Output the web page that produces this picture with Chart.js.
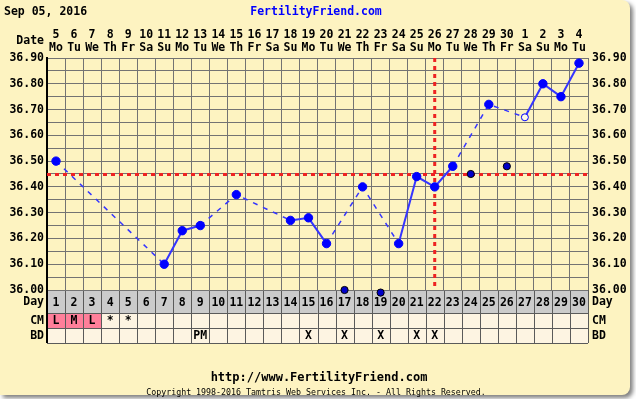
<!doctype html>
<html lang="en">
  <head>
    <meta charset="utf-8">
    <title>FertilityFriend BBT chart</title>
    <script src="https://cdn.jsdelivr.net/npm/chart.js"></script>
    <style>
      html, body { margin: 0; padding: 0; background: #fff; }
      #bbtChart { display: block; }
    </style>
  </head>
  <body>
    <canvas id="bbtChart" width="636" height="399"></canvas>
    <script>
      // chart data
      const cycleDays = ['1','2','3','4','5','6','7','8','9','10','11','12','13','14','15',
        '16','17','18','19','20','21','22','23','24','25','26','27','28','29','30'];
      const dateNums = ['5','6','7','8','9','10','11','12','13','14','15','16','17','18','19',
        '20','21','22','23','24','25','26','27','28','29','30','1','2','3','4'];
      const weekDays = ['Mo','Tu','We','Th','Fr','Sa','Su','Mo','Tu','We','Th','Fr','Sa','Su','Mo',
        'Tu','We','Th','Fr','Sa','Su','Mo','Tu','We','Th','Fr','Sa','Su','Mo','Tu'];
      const temps = [36.50, null, null, null, null, null, 36.10, 36.23, 36.25, null,
        36.37, null, null, 36.27, 36.28, 36.18, null, 36.40, null, 36.18,
        36.44, 36.40, 36.48, null, 36.72, null, 36.67, 36.80, 36.75, 36.88];
      const discardedTemps = [null, null, null, null, null, null, null, null, null, null,
        null, null, null, null, null, null, 36.00, null, 35.99, null,
        null, null, null, 36.45, null, 36.48, null, null, null, null];
      const openDays = ['27'];
      const cmMarks = ['L','M','L','*','*','','','','','','','','','','',
        '','','','','','','','','','','','','','',''];
      const periodDays = ['1','2','3'];
      const bdMarks = ['','','','','','','','','PM','','','','','','X',
        '','X','','X','','X','X','','','','','','','',''];
      const coverline = 36.45;
      const ovulationDay = '22';
      const tempMin = 36.00;
      const tempMax = 36.90;

      const mono = '"DejaVu Sans Mono", "Liberation Mono", monospace';
      const panelColor = '#fdf3c1';
      const cellColor = '#fdf4e2';

      // the part of the line that jumps over a missing day is dashed
      function isGap(ctx) {
        return ctx.p0.skip || ctx.p1.skip;
      }

      const chartFrame = {
        id: 'chartFrame',
        beforeDraw(chart) {
          const { ctx, chartArea: a, scales: { x } } = chart;
          ctx.save();
          ctx.fillStyle = '#ffffff';
          ctx.fillRect(0, 0, chart.width, chart.height);
          // panel with a soft shadow
          ctx.shadowColor = 'rgba(0,0,0,0.5)';
          ctx.shadowBlur = 4;
          ctx.shadowOffsetX = 3;
          ctx.shadowOffsetY = 3;
          ctx.fillStyle = panelColor;
          ctx.beginPath();
          ctx.roundRect(0, 0, 630, 395, [0, 8, 8, 0]);
          ctx.fill();
          ctx.restore();

          // Day / CM / BD table under the plot
          ctx.save();
          const cw = x.getPixelForValue(1) - x.getPixelForValue(0);
          const rows = [
            { top: a.bottom, h: 23, fill: '#cbcbcb' },
            { top: a.bottom + 23, h: 15, fill: cellColor },
            { top: a.bottom + 38, h: 15, fill: cellColor }
          ];
          rows.forEach(r => {
            ctx.fillStyle = r.fill;
            ctx.fillRect(a.left, r.top, a.right - a.left, r.h);
          });
          periodDays.forEach(d => {
            const i = cycleDays.indexOf(d);
            const l = x.getPixelForValue(i) - cw / 2;
            ctx.fillStyle = '#ff7f9a';
            ctx.fillRect(l, rows[1].top, cw, rows[1].h);
          });
          ctx.strokeStyle = '#5a5a5a';
          ctx.lineWidth = 1;
          ctx.beginPath();
          for (let i = 0; i <= cycleDays.length; i++) {
            const px = Math.round(x.getPixelForValue(i) - cw / 2) + 0.5;
            ctx.moveTo(px, a.bottom);
            ctx.lineTo(px, a.bottom + 53);
          }
          [23, 38, 53].forEach(dy => {
            ctx.moveTo(a.left, Math.round(a.bottom + dy) + 0.5);
            ctx.lineTo(a.right, Math.round(a.bottom + dy) + 0.5);
          });
          ctx.stroke();
          ctx.fillStyle = '#000';
          ctx.fillRect(a.left - 1, a.bottom, 2, 53);
          ctx.restore();
        },
        beforeDatasetsDraw(chart) {
          const { ctx, chartArea: a, scales: { x, y } } = chart;
          ctx.save();
          ctx.strokeStyle = '#ee2222';
          ctx.lineWidth = 3;
          ctx.setLineDash([4, 4]);
          const cy = Math.round(y.getPixelForValue(coverline)) + 0.5;
          ctx.beginPath();
          ctx.moveTo(a.left, cy);
          ctx.lineTo(a.right, cy);
          ctx.stroke();
          const ox = x.getPixelForValue(cycleDays.indexOf(ovulationDay));
          ctx.beginPath();
          ctx.moveTo(ox, a.top);
          ctx.lineTo(ox, a.bottom);
          ctx.stroke();
          ctx.restore();
        },
        afterDraw(chart) {
          const { ctx, chartArea: a, scales: { x, xTop } } = chart;
          ctx.save();
          ctx.textBaseline = 'middle';
          ctx.font = 'bold 11.5px ' + mono;
          ctx.fillStyle = '#000';
          ctx.textAlign = 'left';
          ctx.fillText('Sep 05, 2016', 4, 12);
          ctx.textAlign = 'center';
          ctx.fillStyle = '#0000ff';
          ctx.fillText('FertilityFriend.com', 316, 12);
          ctx.fillStyle = '#000';
          // date header over each column
          xTop.getLabels().forEach((lbl, i) => {
            const px = xTop.getPixelForValue(i);
            ctx.fillText(lbl[0], px, 35);
            ctx.fillText(lbl[1], px, 48);
          });
          ctx.textAlign = 'right';
          ctx.fillText('Date', 44, 41);
          ctx.fillText('Day', 44, 302);
          ctx.fillText('CM', 44, 321);
          ctx.fillText('BD', 44, 336);
          ctx.textAlign = 'left';
          ctx.fillText('Day', a.right + 4, 302);
          ctx.fillText('CM', a.right + 4, 321);
          ctx.fillText('BD', a.right + 4, 336);
          ctx.textAlign = 'center';
          cycleDays.forEach((d, i) => {
            const px = x.getPixelForValue(i);
            if (cmMarks[i]) ctx.fillText(cmMarks[i], px, 321);
            if (bdMarks[i]) ctx.fillText(bdMarks[i], px, 336);
          });
          ctx.font = 'bold 12px ' + mono;
          ctx.fillText('http://www.FertilityFriend.com', 319, 378);
          ctx.font = '8.3px ' + mono;
          ctx.fillText('Copyright 1998-2016 Tamtris Web Services Inc. - All Rights Reserved.', 316, 393);
          ctx.restore();
        }
      };

      const tickFont = { family: mono, size: 11.5, weight: 'bold' };
      const tempLabel = v => {
        const c = Math.round(v * 100);
        return c % 10 === 0 ? (c / 100).toFixed(2) : '';
      };

      new Chart(document.getElementById('bbtChart'), {
        type: 'line',
        data: {
          labels: cycleDays,
          datasets: [{
            label: 'Temperature',
            data: temps,
            spanGaps: true,
            borderColor: '#3535ff',
            borderWidth: 2,
            pointRadius: cycleDays.map(d => openDays.includes(d) ? 3.5 : 4.2),
            pointBackgroundColor: cycleDays.map(d => openDays.includes(d) ? '#fffbe8' : '#0000ff'),
            pointBorderColor: '#0000ff',
            pointBorderWidth: 1,
            clip: false,
            segment: {
              borderDash: ctx => isGap(ctx) ? [5, 6] : undefined,
              borderWidth: ctx => isGap(ctx) ? 1.5 : undefined
            }
          }, {
            label: 'Discarded',
            data: discardedTemps,
            showLine: false,
            pointRadius: 3.6,
            pointBackgroundColor: '#0000c8',
            pointBorderColor: '#000',
            pointBorderWidth: 1,
            clip: false
          }]
        },
        options: {
          responsive: false,
          animation: false,
          devicePixelRatio: 1,
          layout: { padding: 0 },
          plugins: { legend: { display: false }, tooltip: { enabled: false } },
          scales: {
            x: {
              type: 'category',
              position: 'bottom',
              offset: true,
              afterFit: s => { s.height = 109; },
              grid: { offset: true, color: '#737373', lineWidth: 1, drawTicks: false },
              border: { display: false },
              ticks: { font: tickFont, color: '#000', padding: 6, maxRotation: 0, autoSkip: false }
            },
            xTop: {
              type: 'category',
              position: 'top',
              offset: true,
              labels: dateNums.map((d, i) => [d, weekDays[i]]),
              afterFit: s => { s.height = 58; },
              grid: { display: false, drawTicks: false },
              border: { display: false },
              ticks: { display: false }
            },
            y: {
              position: 'left',
              min: tempMin,
              max: tempMax,
              afterFit: s => { s.width = 47; },
              grid: { color: '#737373', lineWidth: 1, drawTicks: false },
              border: { color: '#000', width: 2 },
              ticks: { stepSize: 0.05, font: tickFont, color: '#000', padding: 3, autoSkip: false, callback: tempLabel }
            },
            yRight: {
              position: 'right',
              min: tempMin,
              max: tempMax,
              afterFit: s => { s.width = 48; },
              grid: { drawOnChartArea: false, drawTicks: false },
              border: { display: false },
              ticks: { stepSize: 0.05, font: tickFont, color: '#000', padding: 4, autoSkip: false, callback: tempLabel }
            }
          }
        },
        plugins: [chartFrame]
      });
    </script>
  </body>
</html>
